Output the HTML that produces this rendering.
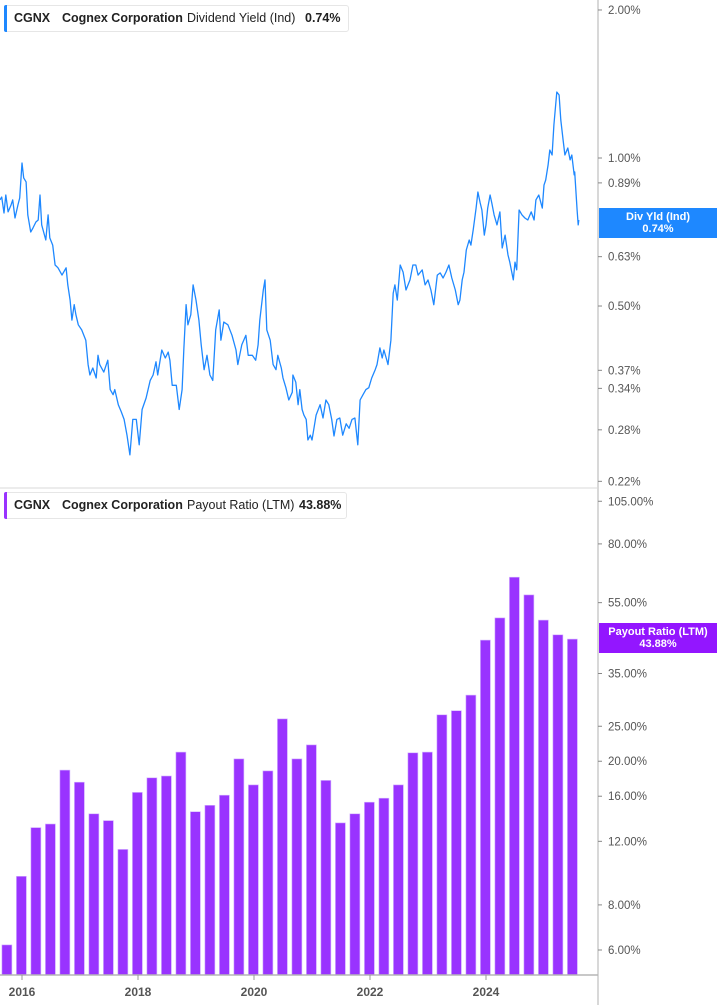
<!DOCTYPE html>
<html><head><meta charset="utf-8">
<style>
html,body{margin:0;padding:0;background:#fff;}
body{width:717px;height:1005px;overflow:hidden;font-family:"Liberation Sans",sans-serif;position:relative;}
svg text{font-family:"Liberation Sans",sans-serif;}
#chart{position:absolute;left:0;top:0;}
</style></head>
<body>
<svg id="chart" width="717" height="1005" xmlns="http://www.w3.org/2000/svg">
  <g id="gtop"></g>
  <g id="gbot"></g>
  <g id="gaxes"></g>
</svg>

<div style="position:absolute;left:4px;top:5px;width:343px;height:25px;border:1px solid #e6e6e6;border-radius:3px;background:#fff;font-size:12.5px;line-height:25px;color:#222;">
  <div style="position:absolute;left:-1px;top:-1px;width:3px;height:27px;background:#1e88ff;border-radius:2px 0 0 2px;"></div>
  <span style="position:absolute;left:9px;font-weight:bold;">CGNX</span>
  <span style="position:absolute;left:57px;font-weight:bold;">Cognex Corporation</span>
  <span style="position:absolute;left:182px;">Dividend Yield (Ind)</span>
  <span style="position:absolute;left:300px;font-weight:bold;">0.74%</span>
</div>
<div style="position:absolute;left:4px;top:492px;width:341px;height:25px;border:1px solid #e6e6e6;border-radius:3px;background:#fff;font-size:12.5px;line-height:25px;color:#222;">
  <div style="position:absolute;left:-1px;top:-1px;width:3px;height:27px;background:#9933ff;border-radius:2px 0 0 2px;"></div>
  <span style="position:absolute;left:9px;font-weight:bold;">CGNX</span>
  <span style="position:absolute;left:57px;font-weight:bold;">Cognex Corporation</span>
  <span style="position:absolute;left:182px;">Payout Ratio (LTM)</span>
  <span style="position:absolute;left:294px;font-weight:bold;">43.88%</span>
</div>
<div style="position:absolute;left:599px;top:208px;width:118px;height:30px;background:#1e88ff;color:#fff;font-size:11px;font-weight:bold;text-align:center;line-height:12px;padding-top:3px;box-sizing:border-box;">Div Yld (Ind)<br>0.74%</div>
<div style="position:absolute;left:599px;top:623px;width:118px;height:30px;background:#9316ff;color:#fff;font-size:11px;font-weight:bold;text-align:center;line-height:12px;padding-top:3px;box-sizing:border-box;">Payout Ratio (LTM)<br>43.88%</div>

<script>
const yieldDates = [2015.62,2015.65,2015.69,2015.72,2015.76,2015.81,2015.84,2015.88,2015.93,2015.96,2016.00,2016.03,2016.07,2016.10,2016.15,2016.19,2016.24,2016.28,2016.31,2016.34,2016.41,2016.45,2016.48,2016.53,2016.57,2016.62,2016.69,2016.76,2016.79,2016.83,2016.86,2016.90,2016.93,2016.97,2017.03,2017.10,2017.14,2017.17,2017.22,2017.28,2017.31,2017.34,2017.41,2017.48,2017.52,2017.57,2017.60,2017.66,2017.71,2017.76,2017.81,2017.86,2017.91,2017.97,2018.02,2018.07,2018.14,2018.21,2018.26,2018.31,2018.34,2018.41,2018.47,2018.52,2018.55,2018.59,2018.66,2018.71,2018.76,2018.79,2018.83,2018.86,2018.91,2018.95,2019.00,2019.05,2019.09,2019.14,2019.19,2019.24,2019.29,2019.34,2019.40,2019.43,2019.48,2019.55,2019.62,2019.69,2019.72,2019.79,2019.86,2019.90,2019.97,2020.03,2020.07,2020.10,2020.16,2020.19,2020.22,2020.28,2020.33,2020.38,2020.41,2020.47,2020.50,2020.55,2020.60,2020.66,2020.67,2020.72,2020.76,2020.79,2020.83,2020.86,2020.90,2020.93,2020.97,2021.00,2021.03,2021.07,2021.14,2021.19,2021.24,2021.29,2021.34,2021.38,2021.43,2021.48,2021.53,2021.59,2021.64,2021.69,2021.74,2021.79,2021.83,2021.88,2021.93,2021.98,2022.03,2022.09,2022.12,2022.17,2022.21,2022.24,2022.28,2022.31,2022.36,2022.40,2022.43,2022.47,2022.52,2022.57,2022.62,2022.69,2022.74,2022.79,2022.83,2022.90,2022.95,2023.00,2023.05,2023.10,2023.16,2023.21,2023.26,2023.31,2023.36,2023.41,2023.47,2023.52,2023.55,2023.59,2023.62,2023.66,2023.71,2023.74,2023.78,2023.83,2023.86,2023.90,2023.93,2023.97,2024.00,2024.03,2024.07,2024.10,2024.14,2024.19,2024.24,2024.28,2024.33,2024.38,2024.41,2024.47,2024.50,2024.53,2024.57,2024.62,2024.67,2024.72,2024.78,2024.83,2024.86,2024.91,2024.97,2025.00,2025.03,2025.07,2025.10,2025.14,2025.17,2025.22,2025.26,2025.29,2025.33,2025.36,2025.41,2025.45,2025.48,2025.52,2025.53,2025.57,2025.59,2025.60];
const yieldValues = [0.822,0.833,0.773,0.841,0.777,0.802,0.822,0.755,0.802,0.829,0.977,0.911,0.894,0.766,0.707,0.721,0.741,0.748,0.841,0.731,0.681,0.766,0.688,0.665,0.606,0.598,0.578,0.598,0.552,0.514,0.468,0.503,0.480,0.458,0.447,0.426,0.380,0.362,0.374,0.357,0.397,0.380,0.367,0.388,0.338,0.330,0.338,0.315,0.305,0.294,0.273,0.249,0.294,0.294,0.261,0.308,0.325,0.353,0.362,0.385,0.362,0.407,0.392,0.403,0.388,0.345,0.345,0.308,0.338,0.407,0.503,0.458,0.480,0.552,0.514,0.468,0.417,0.371,0.397,0.362,0.353,0.447,0.491,0.426,0.464,0.458,0.436,0.407,0.380,0.417,0.436,0.397,0.397,0.388,0.417,0.468,0.539,0.565,0.447,0.426,0.380,0.371,0.397,0.374,0.357,0.341,0.322,0.334,0.362,0.350,0.315,0.338,0.308,0.300,0.294,0.267,0.273,0.267,0.280,0.300,0.315,0.296,0.322,0.315,0.294,0.272,0.294,0.296,0.273,0.288,0.282,0.294,0.296,0.261,0.322,0.330,0.338,0.341,0.357,0.371,0.380,0.411,0.392,0.407,0.392,0.380,0.426,0.531,0.552,0.514,0.606,0.586,0.539,0.565,0.606,0.606,0.578,0.592,0.552,0.565,0.539,0.503,0.578,0.584,0.570,0.586,0.606,0.570,0.539,0.503,0.514,0.565,0.586,0.650,0.681,0.665,0.714,0.791,0.853,0.810,0.784,0.697,0.731,0.791,0.841,0.810,0.766,0.731,0.777,0.656,0.697,0.635,0.614,0.565,0.614,0.592,0.784,0.766,0.755,0.748,0.777,0.748,0.822,0.841,0.791,0.881,0.902,0.968,1.038,1.014,1.167,1.362,1.343,1.195,1.088,1.014,1.048,0.991,1.014,0.924,0.937,0.784,0.731,0.748];
const yieldTicks = [2.00,1.00,0.89,0.63,0.50,0.37,0.34,0.28,0.22];

const quarters = ["2015Q3","2015Q4","2016Q1","2016Q2","2016Q3","2016Q4","2017Q1","2017Q2","2017Q3","2017Q4","2018Q1","2018Q2","2018Q3","2018Q4","2019Q1","2019Q2","2019Q3","2019Q4","2020Q1","2020Q2","2020Q3","2020Q4","2021Q1","2021Q2","2021Q3","2021Q4","2022Q1","2022Q2","2022Q3","2022Q4","2023Q1","2023Q2","2023Q3","2023Q4","2024Q1","2024Q2","2024Q3","2024Q4","2025Q1","2025Q2"];
const payoutValues = [6.2,9.6,13.1,13.4,18.9,17.5,14.3,13.7,11.4,16.4,18.0,18.2,21.2,14.5,15.1,16.1,20.3,17.2,18.8,26.2,20.3,22.2,17.7,13.5,14.3,15.4,15.8,17.2,21.1,21.2,26.9,27.6,30.5,43.3,49.9,64.7,57.8,49.2,44.8,43.6];
const payoutTicks = [105,80,55,35,25,20,16,12,8,6];
const yearTicks = [2016,2018,2020,2022,2024];

const NS="http://www.w3.org/2000/svg";
function mk(tag,attrs,parent){const e=document.createElementNS(NS,tag);for(const k in attrs)e.setAttribute(k,attrs[k]);parent.appendChild(e);return e;}
const xScale = d => 22 + (d-2016)*58;
const yTop = v => 158 - Math.log10(v)*491.7;
const yBot = v => 950 - Math.log10(v/6)*361;
const gTop=document.getElementById('gtop'), gBot=document.getElementById('gbot'), gAxes=document.getElementById('gaxes');

let dstr='';
yieldValues.forEach((v,i)=>{dstr+=(i?'L':'M')+xScale(yieldDates[i]).toFixed(1)+','+yTop(v).toFixed(1);});
const line=mk('path',{d:dstr,fill:'none',stroke:'#1e88ff','stroke-width':1.3,'stroke-linejoin':'round'},gTop);



quarters.forEach((q,i)=>{
  const yr=parseInt(q.slice(0,4)) + (parseInt(q.slice(5))-1)/4 + 0.24;
  const cx=xScale(yr);
  const y=yBot(payoutValues[i]);
  const b=mk('rect',{x:(cx-5).toFixed(1),y:y.toFixed(1),width:10,height:(975-y).toFixed(1),fill:'#9933ff',stroke:'#d4b3ff','stroke-width':0.6},gBot);
  
  
});

mk('line',{x1:598,y1:0,x2:598,y2:1005,stroke:'#bdbdbd','stroke-width':1.2},gAxes);
mk('line',{x1:0,y1:488,x2:598,y2:488,stroke:'#d9d9d9','stroke-width':1},gAxes);
mk('line',{x1:0,y1:975,x2:598,y2:975,stroke:'#b5b5b5','stroke-width':1.5},gAxes);

yieldTicks.forEach(t=>{
  const y=yTop(t);
  mk('line',{x1:598,y1:y,x2:602,y2:y,stroke:'#888'},gAxes);
  const tx=mk('text',{x:608,y:y+4,'font-size':11.5,fill:'#555'},gAxes);
  tx.textContent=t.toFixed(2)+'%';
  
  
});
payoutTicks.forEach(t=>{
  const y=yBot(t);
  mk('line',{x1:598,y1:y,x2:602,y2:y,stroke:'#888'},gAxes);
  const tx=mk('text',{x:608,y:y+4,'font-size':11.5,fill:'#555'},gAxes);
  tx.textContent=t.toFixed(2)+'%';
  
  
});
yearTicks.forEach(t=>{
  const x=xScale(t);
  mk('line',{x1:x,y1:975,x2:x,y2:980,stroke:'#999'},gAxes);
  const tx=mk('text',{x:x,y:996,'font-size':12,fill:'#555','font-weight':'bold','text-anchor':'middle'},gAxes);
  tx.textContent=t;
  
  
});
</script>
</body></html>
